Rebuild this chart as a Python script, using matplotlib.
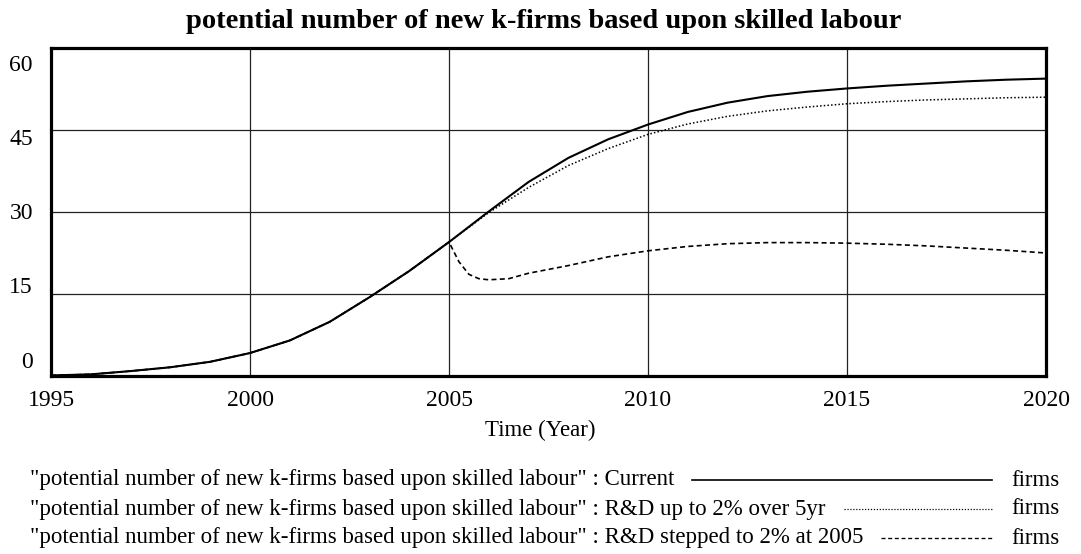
import matplotlib
matplotlib.use('Agg')
import matplotlib.pyplot as plt
from matplotlib.lines import Line2D

# Fuente tipo Times (Vensim)
plt.rcParams['font.family'] = ['Liberation Serif', 'DejaVu Serif']

# Datos
years = [1995, 1996, 1997, 1998, 1999, 2000, 2001, 2002, 2003, 2004, 2005,
         2006, 2007, 2008, 2009, 2010, 2011, 2012, 2013, 2014, 2015,
         2016, 2017, 2018, 2019, 2020]
current = [0.1, 0.3, 0.9, 1.6, 2.6, 4.2, 6.5, 9.9, 14.4, 19.2, 24.5,
           30.1, 35.5, 39.9, 43.3, 46.0, 48.3, 50.0, 51.2, 52.0, 52.6,
           53.1, 53.5, 53.9, 54.2, 54.4]
rd_5yr = [0.1, 0.3, 0.9, 1.6, 2.6, 4.2, 6.5, 9.9, 14.4, 19.2, 24.5,
          29.9, 34.5, 38.5, 41.6, 44.2, 46.1, 47.5, 48.5, 49.2, 49.8,
          50.2, 50.5, 50.7, 50.9, 51.0]

years_step = [1995, 1996, 1997, 1998, 1999, 2000, 2001, 2002, 2003, 2004, 2005,
              2005.25, 2005.5, 2005.75, 2006, 2006.5, 2007, 2008, 2009, 2010,
              2011, 2012, 2013, 2014, 2015, 2016, 2017, 2018, 2019, 2020]
rd_step = [0.1, 0.3, 0.9, 1.6, 2.6, 4.2, 6.5, 9.9, 14.4, 19.2, 24.5,
           20.9, 18.6, 17.8, 17.6, 17.8, 18.8, 20.2, 21.8, 22.9,
           23.7, 24.2, 24.4, 24.4, 24.3, 24.1, 23.8, 23.4, 23.0, 22.5]

x_ticks = [1995, 2000, 2005, 2010, 2015, 2020]
y_ticks = [0, 15, 30, 45, 60]

title = 'potential number of new k-firms based upon skilled labour'
var = '"potential number of new k-firms based upon skilled labour" : '
run_names = ['Current', 'R&D up to 2% over 5yr', 'R&D stepped to 2% at 2005']
units = 'firms'

W, H = 1081, 554
fig = plt.figure(figsize=(W / 100, H / 100), dpi=100)
ax = fig.add_axes([51 / W, 1 - 376 / H, 995 / W, 328 / H])

styles = [dict(ls='-', lw=1.5), dict(ls=(0, (1, 1.4)), lw=1.1), dict(ls=(0, (3, 2)), lw=1.2)]
ax.plot(years_step, rd_step, color='black', zorder=3, **styles[2])
ax.plot(years, rd_5yr, color='black', zorder=3, **styles[1])
ax.plot(years, current, color='black', zorder=4, **styles[0])

ax.set_xlim(1995, 2020)
ax.set_ylim(0, 60)
ax.set_xticks(x_ticks)
ax.set_yticks(y_ticks)
ax.tick_params(length=0, labelleft=False, labelsize=17, pad=10)
ax.grid(True, color='#222222', lw=0.9)
for s in ax.spines.values():
    s.set_linewidth(2.3)

# Etiquetas del eje y (Vensim las reparte a su manera)
for v in y_ticks:
    ax.text(-18 / 995, 0.042 + v / 60 * 0.906, str(v), transform=ax.transAxes,
            ha='right', va='center', fontsize=17)

fig.text(544 / W, 1 - 22 / H, title, ha='center', va='center',
         fontsize=20.5, fontweight='bold')
fig.text(540 / W, 1 - 430 / H, 'Time (Year)', ha='center', va='center', fontsize=16.5)

# Leyenda
row_y = [480, 509, 538]
texts = []
for name, y in zip(run_names, row_y):
    texts.append(fig.text(30 / W, 1 - y / H, var + name, ha='left', va='center', fontsize=16.5))
    fig.text(1011 / W, 1 - y / H, units, ha='left', va='center', fontsize=16.5)

fig.canvas.draw()
r = fig.canvas.get_renderer()
for t, y, st in zip(texts, row_y, styles):
    x0 = t.get_window_extent(r).x1 + 18
    fig.add_artist(Line2D([x0 / W, 992 / W], [1 - y / H, 1 - y / H],
                          transform=fig.transFigure, color='black',
                          ls=st['ls'], lw=st['lw'] * 0.8))

fig.savefig('out.png', dpi=100)
